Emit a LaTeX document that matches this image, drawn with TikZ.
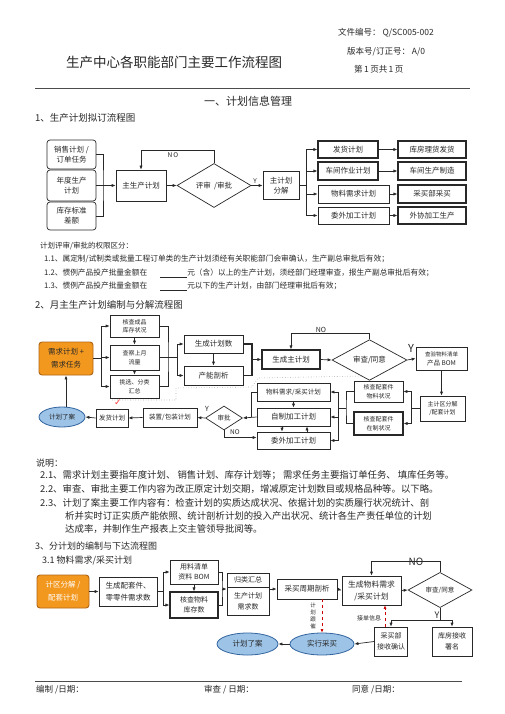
\documentclass[tikz,border=0pt]{standalone}
\usepackage{fontspec}
\setmainfont{Noto Sans CJK SC}
\newfontfamily\symfont{DejaVu Sans}
\usetikzlibrary{arrows.meta,shapes.geometric,calc}
\definecolor{orF}{RGB}{243,152,30}
\definecolor{orD}{RGB}{175,100,20}
\definecolor{blF}{RGB}{157,195,230}
\definecolor{blD}{RGB}{50,100,160}
\definecolor{ink}{RGB}{40,40,40}
\newcommand{\fsz}[2]{\fontsize{#1pt}{#2pt}\selectfont}
\tikzset{
  box/.style={draw=ink, line width=0.7pt, inner sep=1pt, align=center, text=ink, font=\fsz{7.5}{10}},
  tbox/.style={box, line width=1.1pt},
  sbox/.style={box, font=\fsz{6}{8.5}},
  rbox/.style={box, rounded corners=3pt},
  obox/.style={rbox, fill=orF, draw=orD, line width=0.9pt},
  ell/.style={ellipse, draw=blD, fill=blF, line width=0.8pt, inner sep=0pt, text=ink, font=\fsz{7.5}{9}},
  dia/.style={diamond, draw=ink, line width=0.7pt, inner sep=0pt, text=ink, font=\fsz{7.5}{9}},
  arr/.style={draw=ink, line width=0.7pt, -{Latex[length=4pt,width=3.2pt]}},
  ln/.style={draw=ink, line width=0.7pt},
  txt/.style={anchor=west, inner sep=0pt, text=ink},
  lbl/.style={inner sep=0pt, text=ink, font=\fsz{6.5}{7}},
  rdash/.style={draw=red!80!black, dashed, line width=0.6pt, -{Latex[length=3.5pt,width=3pt]}},
}
\begin{document}
\begin{tikzpicture}[x=1pt,y=-1pt]
\useasboundingbox (0,0) rectangle (505,714);
\fill[white] (0,0) rectangle (505,714);

% ---------- header ----------
\node[txt, font=\fsz{8.5}{10}] (h1) at (338,33) {文件编号：\ Q/SC005-002};
\node[txt, font=\fsz{8.5}{10}] (h2) at (347,52) {版本号/订正号：\ A/0};
\node[txt, font=\fsz{8.5}{10}] (h3) at (354,69) {第\,1\,页共\,1\,页};
\node[txt, font=\fsz{13.5}{15}] (title) at (66,62) {生产中心各职能部门主要工作流程图};
\draw[gray!60!black, line width=0.6pt] (35,88) -- (470,88);
\node[inner sep=0pt, text=ink, font=\fsz{11}{12}] (sec) at (248,101) {一、计划信息管理};
\node[txt, font=\fsz{9.5}{11}] (t1) at (35,118) {1、生产计划拟订流程图};

% ---------- diagram 1 ----------
\node[rbox, minimum width=49pt, minimum height=29pt] (s1) at (71.5,154.5) {销售计划 /\\订单任务};
\node[rbox, minimum width=49pt, minimum height=31pt] (s2) at (71.5,185.5) {年度生产\\计划};
\node[rbox, minimum width=49pt, minimum height=28pt] (s3) at (71.5,216) {库存标准\\差额};
\node[box, minimum width=50pt, minimum height=31pt] (mp) at (141,185.5) {主生产计划};
\node[dia, minimum width=74pt, minimum height=27pt] (rv) at (214,185.5) {评审\ \ /审批};
\node[box, minimum width=36pt, minimum height=28pt] (dc) at (281,185.5) {主计划\\分解};
\node[tbox, minimum width=60pt, minimum height=17pt] (p1) at (348,149.5) {发货计划};
\node[tbox, minimum width=60pt, minimum height=18pt] (p2) at (348,171) {车间作业计划};
\node[box, minimum width=71pt, minimum height=18pt] (p3) at (353.5,194) {物料需求计划};
\node[box, minimum width=71pt, minimum height=17pt] (p4) at (353.5,215.5) {委外加工计划};
\node[tbox, minimum width=68pt, minimum height=17pt] (q1) at (432,149.5) {库房理货发货};
\node[tbox, minimum width=68pt, minimum height=18pt] (q2) at (432,171) {车间生产制造};
\node[tbox, minimum width=68pt, minimum height=18pt] (q3) at (432,194) {采买部采买};
\node[tbox, minimum width=68pt, minimum height=17pt] (q4) at (432,215.5) {外协加工生产};

\coordinate (j1) at (103,185.5);
\draw[ln, line width=1pt] (s1.east) -| (j1) |- (s3.east);
\draw[arr] (s2.east) -- (mp.west);
\draw[arr] (mp.east) -- (rv.west);
\draw[arr] (rv.north) -- ++(0,-13) -| (mp.north);
\node[lbl] (no1) at (173,155.5) {N\,O};
\draw[arr] (rv.east) -- (dc.west);
\node[lbl] (y1) at (255,181) {Y};
\coordinate (j2) at (306,185.5);
\draw[ln] (dc.east) -- (j2);
\foreach \n in {p1,p2,p3,p4} \draw[arr] (j2) |- (\n.west);
\foreach \i in {1,2,3,4} \draw[arr] (p\i.east) -- (q\i.west);

% ---------- text block 1 ----------
\node[txt, font=\fsz{7.5}{9}] (r0) at (40,246) {计划评审/审批的权限区分：};
\node[txt, font=\fsz{7.7}{9}] (r1) at (44,259) {1.1、属定制/试制类或批量工程订单类的生产计划须经有关职能部门会审确认，生产副总审批后有效；};
\node[txt, font=\fsz{7.7}{9}] (r2) at (44,273) {1.2、惯例产品投产批量金额在\hspace{13pt}\rule[-1.5pt]{27pt}{0.5pt}元（含）以上的生产计划，须经部门经理审查，报生产副总审批后有效；};
\node[txt, font=\fsz{7.7}{9}] (r3) at (44,286) {1.3、惯例产品投产批量金额在\hspace{13pt}\rule[-1.5pt]{27pt}{0.5pt}元以下的生产计划，由部门经理审批后有效；};
\node[txt, font=\fsz{9.5}{11}] (t2) at (35,305) {2、月主生产计划编制与分解流程图};

% ---------- diagram 2 ----------
\node[obox, minimum width=54pt, minimum height=33pt, font=\fsz{7.5}{13}] (ob) at (66,358.5) {需求计划 +\\需求任务};
\node[sbox, minimum width=49pt, minimum height=22pt] (k1) at (134.5,326) {核查成品\\库存状况};
\node[sbox, minimum width=49pt, minimum height=25pt] (k2) at (134.5,357.5) {查察上月\\流量};
\node[sbox, minimum width=49pt, minimum height=23pt] (k3) at (134.5,386.5) {挑选、分类\\汇总};
\node[box, minimum width=59pt, minimum height=18pt] (g1) at (213.5,344) {生成计划数};
\node[box, minimum width=59pt, minimum height=19pt] (g2) at (213.5,375.5) {产能剖析};
\node[tbox, minimum width=58pt, minimum height=19pt] (gm) at (291,359.5) {生成主计划};
\node[dia, minimum width=75pt, minimum height=26pt] (d2) at (369.5,360) {审查/同意};
\node[box, minimum width=51pt, minimum height=23pt, font=\fsz{5.5}{9}] (bom) at (441.5,358.5) {查验物料清单\\{\fsz{6.5}{8}产品 BOM}};
\node[sbox, minimum width=45pt, minimum height=25pt] (zk) at (442.5,408.5) {主计区分解\\/配套计划};
\node[sbox, minimum width=49pt, minimum height=21pt] (c1) at (378.5,391.5) {核查配套件\\物料状况};
\node[sbox, line width=1.1pt, minimum width=49pt, minimum height=23pt] (c2) at (378.5,423.5) {核查配套件\\在制状况};
\node[box, font=\fsz{6.5}{8}, minimum width=73pt, minimum height=18pt] (m1) at (293.5,392) {物料需求/采买计划};
\node[box, minimum width=73pt, minimum height=18pt] (m2) at (293.5,417) {自制加工计划};
\node[box, minimum width=73pt, minimum height=17pt] (m3) at (293.5,440.5) {委外加工计划};
\node[dia, font=\fsz{6.5}{8}, minimum width=37pt, minimum height=24pt] (d3) at (224,418) {审批};
\node[box, font=\fsz{6.5}{8}, minimum width=54pt, minimum height=19pt] (zb) at (170,417.5) {装置/包装计划};
\node[box, font=\fsz{6.5}{8}, minimum width=32pt, minimum height=18pt] (fh) at (112,418) {发货计划};
\node[ell, minimum width=46pt, minimum height=20pt, font=\fsz{6.5}{8}] (ja) at (62,417) {计划了案};
\node[inner sep=0pt, text=red!75, font=\symfont\fsz{9}{9}] (chk) at (118,403) {✓};
\draw[gray!70, dotted, line width=0.6pt] (112,400) -- (176,400) -- (176,388) -- (252,387) -- (258,378) -- (363,376);

\coordinate (j3) at (101,358.5);
\draw[ln] (ob.east) -- (j3);
\foreach \n in {k1,k2,k3} \draw[arr] (j3) |- (\n.west);
\draw[arr] (k1.south) -- (k2.north);
\draw[arr] (k2.south) -- (k3.north);
\coordinate (j4) at (168,357.5);
\coordinate (j5) at (177,357.5);
\draw[ln] (k1.east) -| (j4) |- (k3.east);
\draw[ln] (k2.east) -- (j5);
\draw[arr] (j5) |- (g1.west);
\draw[arr] (j5) |- (g2.west);
\draw[arr] (g1.south) -- (g2.north);
\coordinate (j6) at (252,359.5);
\draw[ln, line width=1.1pt] (g1.east) -| (j6) |- (g2.east);
\draw[arr] (j6) -- (gm.west);
\draw[arr] (gm.east) -- (d2.west);
\draw[arr] (d2.north) -- ++(0,-6) -| (gm.north);
\node[lbl, font=\fsz{7}{8}] (no2) at (321,330) {NO};
\draw[arr] (d2.east) -- (bom.west);
\node[lbl, font=\fsz{11}{12}] (y2) at (411,348) {Y};
\draw[arr] (bom.south) -- (bom.south |- zk.north);
\coordinate (j7) at (411,408.5);
\draw[ln] (zk.west) -- (j7);
\draw[arr] (j7) |- (c1.east);
\draw[arr] (j7) |- (c2.east);
\coordinate (j8) at (346,408);
\coordinate (j9) at (338,408);
\draw[ln] (c1.west) -| (j8) |- (c2.west);
\draw[ln] (j8) -- (j9);
\foreach \n in {m1,m2,m3} \draw[arr] (j9) |- (\n.east);
\draw[arr] (m1.south) -- (m2.north);
\draw[arr] ([xshift=-11.5pt]m2.south) -- ([xshift=-11.5pt]m3.north);
\draw[arr] ([xshift=13.5pt]m3.north) -- ([xshift=13.5pt]m2.south);
\coordinate (j10) at (251,417);
\draw[ln] (m1.west) -| (j10);
\draw[arr] (m2.west) -- (d3.east);
\draw[arr] (d3.south) |- ([yshift=3pt]m3.west);
\node[lbl] (no3) at (235,432) {NO};
\node[lbl, font=\fsz{7}{8}] (y3) at (207,409) {Y};
\draw[arr] (d3.west) -- (zb.east);
\draw[arr] (zb.west) -- (fh.east);
\draw[arr] (fh.west) -- (ja.east);
\draw[arr] (ob.south |- ja.north) -- (ob.south);

% ---------- text block 2 ----------
\node[txt, font=\fsz{9}{10}] (u0) at (36,463) {说明：};
\node[txt, font=\fsz{9.4}{11}] (u1) at (40,475) {2.1、需求计划主要指年度计划、\ 销售计划、库存计划等；\ 需求任务主要指订单任务、\ 填库任务等。};
\node[txt, font=\fsz{9.4}{11}] (u2) at (40,489) {2.2、审查、审批主要工作内容为改正原定计划交期，增减原定计划数目或规格品种等。以下略。};
\node[txt, font=\fsz{9.4}{11}] (u3) at (40,503) {2.3、计划了案主要工作内容有：检查计划的实质达成状况、依据计划的实质履行状况统计、剖};
\node[txt, font=\fsz{9.4}{11}] (u4) at (65,516) {析并实时订正实质产能依照、统计剖析计划的投入产出状况、统计各生产责任单位的计划};
\node[txt, font=\fsz{9.4}{11}] (u5) at (65,529) {达成率，并制作生产报表上交主管领导批阅等。};
\node[txt, font=\fsz{9}{10}] (t3) at (35,546) {3、分计划的编制与下达流程图};
\node[txt, font=\fsz{9}{10}] (t31) at (42,561) {3.1 物料需求/采买计划};

% ---------- diagram 3 ----------
\node[obox, minimum width=52pt, minimum height=33pt, text=white, font=\fsz{7.5}{13}] (o3) at (63,591.5) {计区分解 /\\配套计划};
\node[box, align=left, font=\fsz{7.5}{12}, minimum width=58pt, minimum height=29pt] (sc) at (128,591.5) {生成配套件、\\零零件需求数};
\node[box, font=\fsz{7}{10}, minimum width=48pt, minimum height=24pt] (yl) at (194,572) {用料清单\\资料 BOM};
\node[tbox, font=\fsz{7}{10}, minimum width=48pt, minimum height=26pt] (hc) at (194,605) {核查物料\\库存数};
\node[box, minimum width=42pt, minimum height=42pt] (gl) at (248,594) {};
\draw[ln] (227,587) -- (269,587);
\node[inner sep=0pt, text=ink, font=\fsz{7}{9}] (gl1) at (248,580) {归类汇总};
\node[inner sep=0pt, align=center, text=ink, font=\fsz{7}{11}] (gl2) at (248,601.5) {生产计划\\需求数};
\node[box, minimum width=60pt, minimum height=20pt] (cg) at (307,589) {采买周期剖析};
\node[box, font=\fsz{7.8}{12}, minimum width=59pt, minimum height=29pt] (sw) at (371.5,590.5) {生成物料需求\\/采买计划};
\node[dia, font=\fsz{6.5}{8}, minimum width=64pt, minimum height=26pt] (d4) at (440,590) {审查/同意};
\node[box, font=\fsz{7}{11}, minimum width=33pt, minimum height=29pt] (cj) at (391,641.5) {采买部\\接收确认};
\node[box, font=\fsz{7}{11}, minimum width=40pt, minimum height=29pt] (kf) at (452,641.5) {库房接收\\署名};
\node[ell, minimum width=64pt, minimum height=22pt] (sx) at (322,644) {实行采买};
\node[ell, minimum width=61pt, minimum height=22pt] (jb) at (247.5,644) {计划了案};

\draw[arr] (o3.east) -- (sc.west);
\coordinate (j11) at (163,591.5);
\draw[ln] (sc.east) -- (j11);
\draw[arr] (j11) |- (yl.west);
\draw[arr] (j11) |- (hc.west);
\draw[arr] (yl.south) -- (hc.north);
\coordinate (j12) at (222,589);
\draw[ln] (yl.east) -| (j12) |- (hc.east);
\draw[arr] (j12) -- (j12 -| gl.west);
\draw[arr] (gl.east |- cg.west) -- (cg.west);
\draw[arr] (cg.east) -- (sw.west);
\draw[arr] (sw.east) -- (d4.west);
\draw[arr] (d4.north) -- ++(0,-11) -| (sw.north);
\node[lbl, font=\fsz{10}{11}] (no4) at (416,562) {NO};
\coordinate (j13) at (440,620);
\draw[ln] (d4.south) -- (j13);
\draw[arr] (j13) -| (cj.north);
\draw[arr] (j13) -| (kf.north);
\node[lbl, font=\fsz{9}{10}] (y4) at (437,615) {Y};
\draw[arr] (cj.west) -- (sx.east);
\draw[arr] (sx.west) -- (jb.east);
\draw[rdash] (sx.north |- cg.south) -- (sx.north);
\node[inner sep=0pt, align=center, text=ink, font=\fsz{5.5}{7}] (gc) at (313,616) {计\\划\\跟\\催};
\draw[rdash] ([xshift=-6pt]cj.north) -- ([xshift=-6pt]cj.north |- sw.south);
\node[inner sep=0pt, text=ink, font=\fsz{6}{7}] (jd) at (369,618) {接单信息};

% ---------- footer ----------
\draw[gray!60!black, line width=0.6pt] (35,681) -- (462,681);
\node[txt, font=\fsz{8.5}{10}] (f1) at (36,690) {编制 /日期：};
\node[txt, font=\fsz{8.5}{10}] (f2) at (204,690) {审查 / 日期：};
\node[txt, font=\fsz{8.5}{10}] (f3) at (352,690) {同意 /日期：};
\end{tikzpicture}
\end{document}
